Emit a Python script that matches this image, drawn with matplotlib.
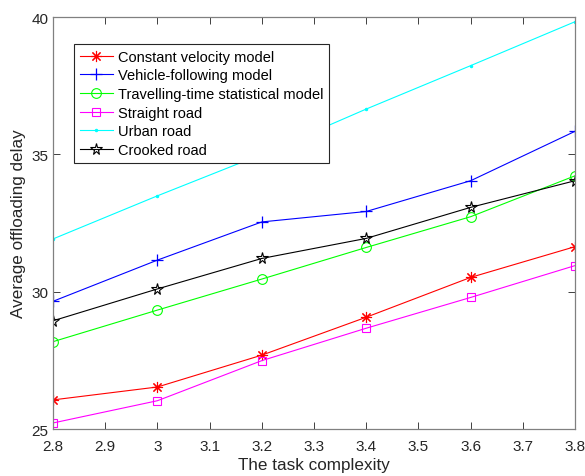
import matplotlib
matplotlib.use("Agg")
import matplotlib.pyplot as plt
import numpy as np

plt.rcParams['font.family'] = ['Liberation Sans', 'DejaVu Sans']

# task complexity on x
complexity = [2.8, 3.0, 3.2, 3.4, 3.6, 3.8]

# average offloading delay per model / road type
constant_velocity = [26.06, 26.53, 27.69, 29.07, 30.52, 31.64]
vehicle_following = [29.65, 31.15, 32.54, 32.92, 34.04, 35.84]
travelling_time = [28.18, 29.33, 30.46, 31.61, 32.73, 34.22]
straight_road = [25.22, 26.03, 27.49, 28.67, 29.79, 30.95]
urban_road = [31.92, 33.49, 35.00, 36.65, 38.23, 39.83]
crooked_road = [28.94, 30.10, 31.21, 31.94, 33.07, 34.04]

fig = plt.figure(figsize=(5.85, 4.77), dpi=100)
ax = fig.add_axes([0.0906, 0.0985, 0.8924, 0.8637])

lw = 0.8
ax.plot(complexity, constant_velocity, color=(1, 0, 0), lw=lw, marker=(8, 2, 0),
        ms=8, mew=0.8, label='Constant velocity model')
ax.plot(complexity, vehicle_following, color=(0, 0, 1), lw=lw, marker='+',
        ms=9, mew=0.9, label='Vehicle-following model')
ax.plot(complexity, travelling_time, color=(0, 1, 0), lw=lw, marker='o',
        ms=7, mew=0.8, mfc='none', label='Travelling-time statistical model')
ax.plot(complexity, straight_road, color=(1, 0, 1), lw=lw, marker='s',
        ms=6, mew=0.8, mfc='none', label='Straight road')
ax.plot(complexity, urban_road, color=(0, 1, 1), lw=lw, marker='.',
        ms=3, label='Urban road')
ax.plot(complexity, crooked_road, color='black', lw=lw, marker='*',
        ms=8.5, mew=0.8, mfc='none', label='Crooked road')

ax.set_xlim(2.8, 3.8)
ax.set_ylim(25, 40)
ax.set_xticks(np.arange(2.8, 3.81, 0.1))
ax.set_xticklabels(['2.8', '2.9', '3', '3.1', '3.2', '3.3', '3.4', '3.5', '3.6', '3.7', '3.8'])
ax.set_yticks([25, 30, 35, 40])

axis_col = '#262626'
for s in ax.spines.values():
    s.set_color('#808080')
    s.set_linewidth(0.9)
ax.tick_params(direction='in', top=True, right=True, length=5, width=0.7,
               colors='#404040', labelcolor=axis_col, labelsize=11)
ax.tick_params(axis='x', pad=7)
ax.set_xlabel('The task complexity', fontsize=12.3, color=axis_col, labelpad=3)
ax.set_ylabel('Average offloading delay', fontsize=12.3, color=axis_col)

leg = ax.legend(loc='upper left', bbox_to_anchor=(0.04, 0.935), fontsize=10.5,
                fancybox=False, framealpha=1, edgecolor='#262626',
                handlelength=2.3, handletextpad=0.3, labelspacing=0.32,
                borderpad=0.4, borderaxespad=0)
leg.get_frame().set_linewidth(0.8)

fig.savefig('out.png', dpi=100)
